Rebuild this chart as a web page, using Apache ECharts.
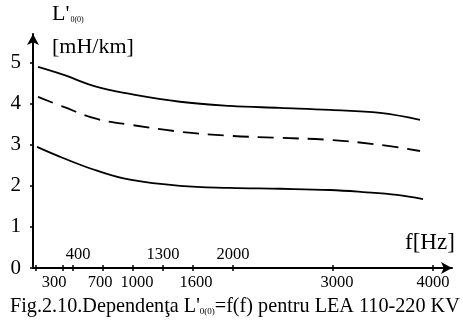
<!DOCTYPE html>
<html><head><meta charset="utf-8">
<script src="https://cdn.jsdelivr.net/npm/echarts@6/dist/echarts.min.js"></script>
<style>html,body{margin:0;padding:0;background:#fff}#c{width:463px;height:324px}</style>
</head><body><div id="c"></div>
<script>
// frequency (Hz) sample points
var freq = [50, 300, 640, 970, 1470, 1970, 2470, 2970, 3470, 3870];
var upper = [4.90, 4.71, 4.41, 4.24, 4.05, 3.95, 3.90, 3.85, 3.78, 3.61];
var middle = [4.17, 3.93, 3.63, 3.49, 3.32, 3.22, 3.17, 3.12, 3.00, 2.85];
var lowerF = [40, 300, 640, 970, 1470, 1970, 2470, 2970, 3300, 3640, 3900];
var lower = [2.95, 2.68, 2.37, 2.15, 2.00, 1.95, 1.93, 1.90, 1.85, 1.78, 1.68];
var xTicks = [30, 300, 400, 700, 1000, 1300, 1600, 2000, 3000, 4000];
var xLabelsBelow = [300, 700, 1000, 1600, 3000, 4000];
var xLabelsAbove = [400, 1300, 2000];
var yTicks = [0, 1, 2, 3, 4, 5];

function pairs(xs, ys){ return xs.map(function(x,i){return [x, ys[i]];}); }
function plain(v){ return String(v); }
var FONT = 'Liberation Serif';
// small horizontal nudges of some tick labels, as in the original drawing
var nudge = {300:-9, 700:-3, 1000:4, 1600:3, 3000:4, 400:5};
var rich = {};
Object.keys(nudge).forEach(function(k){
  var d = nudge[k];
  rich['n'+k] = {fontFamily:FONT, fontSize:16.5, color:'#000', padding: d < 0 ? [0, -2*d, 0, 0] : [0, 0, 0, 2*d]};
});
function nudged(v){ return nudge[v] !== undefined ? '{n'+v+'|'+v+'}' : String(v); }
var chart = echarts.init(document.getElementById('c'));
var axisLineStyle = {color:'#000', width:2};
chart.setOption({
  animation:false,
  backgroundColor:'#fff',
  grid:{left:33, right:11, top:34, bottom:56, containLabel:false},
  xAxis:[{
    type:'value', min:0, max:4190, position:'bottom',
    axisLine:{show:true, onZero:false, lineStyle:axisLineStyle, symbol:['none','arrow'], symbolSize:[9,11]},
    axisTick:{show:true, customValues:xTicks, length:3, lineStyle:{color:'#000',width:1.5}},
    axisLabel:{customValues:xLabelsBelow, formatter:nudged, rich:rich, color:'#000', fontFamily:FONT, fontSize:16.5, margin:6},
    splitLine:{show:false}
  },{
    type:'value', min:0, max:4190, position:'bottom',
    axisLine:{show:false},
    axisTick:{show:true, inside:true, customValues:xTicks, length:3, lineStyle:{color:'#000',width:1.5}},
    axisLabel:{inside:true, customValues:xLabelsAbove, formatter:nudged, rich:rich, color:'#000', fontFamily:FONT, fontSize:16.5, margin:5},
    splitLine:{show:false}
  }],
  yAxis:{
    type:'value', min:0, max:5.7,
    axisLine:{show:true, lineStyle:axisLineStyle, symbol:['none','arrow'], symbolSize:[9,11]},
    axisTick:{show:true, customValues:yTicks, length:3, lineStyle:{color:'#000',width:1.5}},
    axisLabel:{customValues:yTicks, formatter:plain, color:'#000', fontFamily:FONT, fontSize:21, margin:12},
    splitLine:{show:false}
  },
  graphic:[
    {type:'text', left:52, top:3, style:{
      rich:{a:{fontFamily:FONT,fontSize:22,fill:'#000'}, s:{fontFamily:FONT,fontSize:8,fill:'#000',padding:[12,0,0,1]}},
      text:"{a|L'}{s|0(0)}"}},
    {type:'text', left:52, top:36, style:{text:'[mH/km]', font:'22px "Liberation Serif"', fill:'#000'}},
    {type:'text', left:405, top:231, style:{text:'f[Hz]', font:'23px "Liberation Serif"', fill:'#000'}},
    {type:'text', left:10, top:297, style:{
      rich:{a:{fontFamily:FONT,fontSize:20.2,fill:'#000'}, s:{fontFamily:FONT,fontSize:9,fill:'#000',padding:[10,0,0,0]}},
      text:"{a|Fig.2.10.Dependenţa L'}{s|0(0)}{a|=f(f) pentru LEA 110-220 KV}"}}
  ],
  series:[
    {type:'line', xAxisIndex:0, data:pairs(freq, upper), smooth:0.4, showSymbol:false, lineStyle:{color:'#000', width:1.8}},
    {type:'line', xAxisIndex:0, data:pairs(freq, middle), smooth:0.4, showSymbol:false, lineStyle:{color:'#000', width:1.8, type:[16,9]}},
    {type:'line', xAxisIndex:0, data:pairs(lowerF, lower), smooth:0.4, showSymbol:false, lineStyle:{color:'#000', width:1.8}}
  ]
});
</script></body></html>
